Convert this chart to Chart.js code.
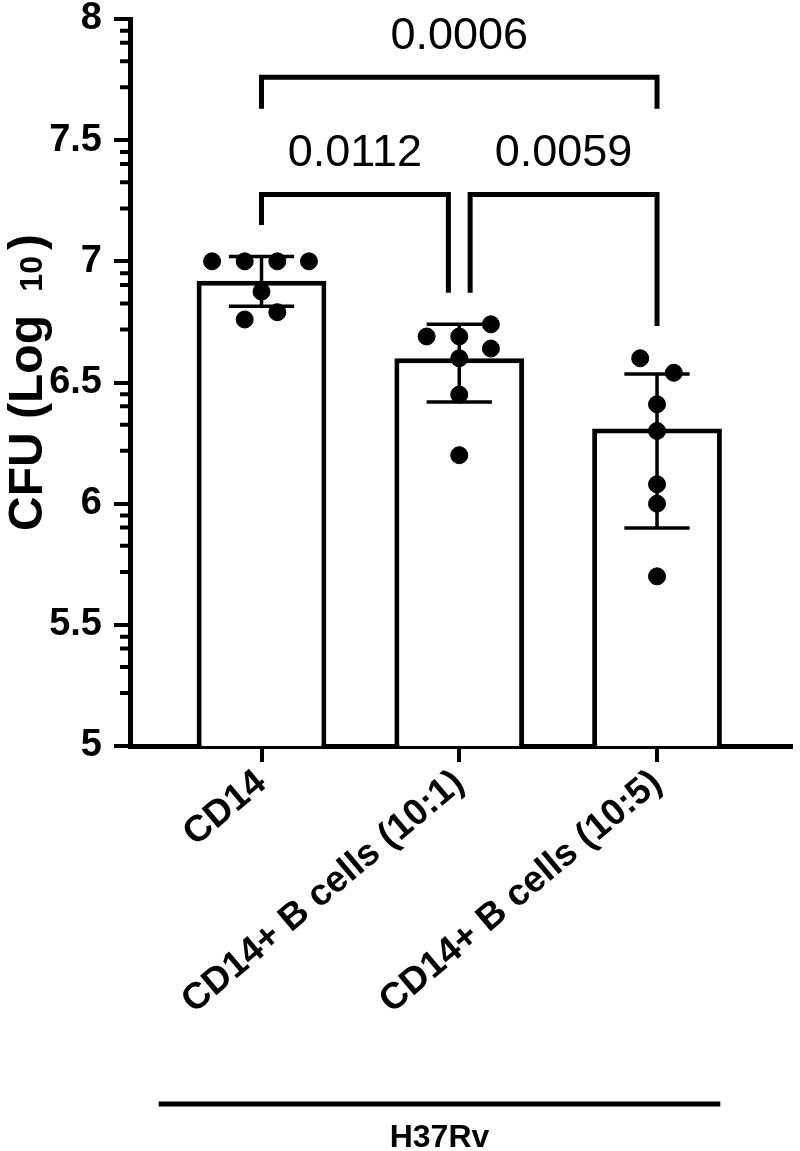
<!DOCTYPE html>
<html lang="en">
  <head>
    <meta charset="UTF-8" />
    <title>CFU H37Rv</title>
    <script src="https://cdn.jsdelivr.net/npm/chart.js@4.4.0/dist/chart.umd.min.js"></script>
    <style>
      body { margin: 0; background: #fff; }
    </style>
  </head>
  <body>
    <canvas id="myChart" width="800" height="1151"></canvas>
    <script>
      const groups = ["CD14", "CD14+ B cells (10:1)", "CD14+ B cells (10:5)"];
      const barValues = [6.92, 6.60, 6.31];
      const errHigh = [7.02, 6.74, 6.535];
      const errLow = [6.815, 6.42, 5.90];

      const pointsCD14 = [7.0, 7.0, 7.0, 7.0, 6.875, 6.76, 6.79];
      const points101 = [6.69, 6.69, 6.74, 6.64, 6.60, 6.45, 6.20];
      const points105 = [6.60, 6.54, 6.41, 6.30, 6.08, 6.00, 5.70];
      // sideways spread of the dots (category units)
      const jitterCD14 = [-0.25, -0.085, 0.08, 0.24, 0, -0.085, 0.08];
      const jitter101 = [-0.165, 0, 0.16, 0.16, 0, 0, 0];
      const jitter105 = [-0.085, 0.085, 0, 0, 0, 0, 0];

      const yTicks = [5, 5.5, 6, 6.5, 7, 7.5, 8];
      const minorFrac = [0.437, 0.652, 0.804, 0.902];

      // significance brackets
      const pLabels = ["0.0006", "0.0112", "0.0059"];
      const bracketFrom = [0, 0, 1.055];
      const bracketTo = [2, 0.945, 2];
      const bracketTop = [7.76, 7.276, 7.276];
      const legLeft = [7.63, 7.15, 6.87];
      const legRight = [7.63, 6.87, 6.733];

      const groupLabel = "H37Rv";
      const groupSpan = [-0.52, 2.32];

      Chart.defaults.font.family = "'Liberation Sans', Arial, sans-serif";
      Chart.defaults.color = "#000";

      const allPoints = [];
      [[pointsCD14, jitterCD14], [points101, jitter101], [points105, jitter105]].forEach(([vals, jit], i) => {
        vals.forEach((v, k) => allPoints.push({ x: i + jit[k], y: v }));
      });

      const extras = {
        id: "extras",
        afterDatasetDraw(chart, args) {
          if (args.meta.type !== "bar") return;
          const { ctx, scales: { x, y } } = chart;
          ctx.save();
          ctx.strokeStyle = "#000";
          ctx.lineWidth = 3.5;
          groups.forEach((g, i) => {
            const cx = x.getPixelForValue(i);
            const half = x.getPixelForValue(i + 0.165) - cx;
            const top = y.getPixelForValue(errHigh[i]);
            const bot = y.getPixelForValue(errLow[i]);
            ctx.beginPath();
            ctx.moveTo(cx, top); ctx.lineTo(cx, bot);
            ctx.moveTo(cx - half, top); ctx.lineTo(cx + half, top);
            ctx.moveTo(cx - half, bot); ctx.lineTo(cx + half, bot);
            ctx.stroke();
          });
          ctx.restore();
        },
        afterDraw(chart) {
          const { ctx, chartArea, scales: { x, y } } = chart;
          ctx.save();
          ctx.strokeStyle = "#000";
          ctx.fillStyle = "#000";

          // minor ticks on the y axis
          ctx.lineWidth = 4;
          ctx.beginPath();
          for (let t = 0; t < yTicks.length - 1; t++) {
            const step = yTicks[t + 1] - yTicks[t];
            minorFrac.forEach(f => {
              const py = y.getPixelForValue(yTicks[t] + f * step);
              ctx.moveTo(chartArea.left - 10, py);
              ctx.lineTo(chartArea.left, py);
            });
          }
          ctx.stroke();

          // brackets with p values
          ctx.lineWidth = 5;
          ctx.lineJoin = "miter";
          ctx.font = "45px 'Liberation Sans', Arial, sans-serif";
          ctx.textAlign = "center";
          ctx.textBaseline = "alphabetic";
          pLabels.forEach((p, i) => {
            const x1 = x.getPixelForValue(bracketFrom[i]);
            const x2 = x.getPixelForValue(bracketTo[i]);
            const yt = y.getPixelForValue(bracketTop[i]);
            ctx.beginPath();
            ctx.moveTo(x1, y.getPixelForValue(legLeft[i]));
            ctx.lineTo(x1, yt);
            ctx.lineTo(x2, yt);
            ctx.lineTo(x2, y.getPixelForValue(legRight[i]));
            ctx.stroke();
            ctx.fillText(p, (x1 + x2) / 2, yt - 28);
          });

          // y axis title with subscript
          const big = "bold 48px 'Liberation Sans', Arial, sans-serif";
          const small = "bold 32px 'Liberation Sans', Arial, sans-serif";
          ctx.font = big;
          const w1 = ctx.measureText("CFU (Log ").width + 10;
          const w3 = ctx.measureText(")").width;
          ctx.font = small;
          const w2 = ctx.measureText("10").width + 6;
          const total = w1 + w2 + w3;
          const mid = (chartArea.top + chartArea.bottom) / 2;
          ctx.translate(42, mid + total / 2);
          ctx.rotate(-Math.PI / 2);
          ctx.textAlign = "left";
          ctx.font = big;
          ctx.fillText("CFU (Log ", 0, 0);
          ctx.font = small;
          ctx.fillText("10", w1, 0);
          ctx.font = big;
          ctx.fillText(")", w1 + w2, 0);
          ctx.setTransform(1, 0, 0, 1, 0, 0);

          // group line
          const gx1 = x.getPixelForValue(groupSpan[0]);
          const gx2 = x.getPixelForValue(groupSpan[1]);
          ctx.lineWidth = 5;
          ctx.beginPath();
          ctx.moveTo(gx1, 1104);
          ctx.lineTo(gx2, 1104);
          ctx.stroke();
          ctx.font = "bold 32px 'Liberation Sans', Arial, sans-serif";
          ctx.textAlign = "center";
          ctx.fillText(groupLabel, (gx1 + gx2) / 2, 1147);
          ctx.restore();
        }
      };

      const ctx = document.getElementById("myChart").getContext("2d");
      const chart = new Chart(ctx, {
        type: "bar",
        data: {
          datasets: [
            {
              type: "scatter",
              data: allPoints,
              backgroundColor: "#000",
              borderColor: "#000",
              pointRadius: 8.5,
              pointHoverRadius: 8.5,
              order: 0
            },
            {
              type: "bar",
              data: barValues.map((v, i) => ({ x: i, y: v })),
              backgroundColor: "#fff",
              borderColor: "#000",
              borderWidth: 5,
              borderSkipped: "start",
              categoryPercentage: 0.8,
              barPercentage: 0.82,
              order: 1
            }
          ]
        },
        options: {
          responsive: false,
          devicePixelRatio: 1,
          animation: false,
          layout: { padding: { top: 19, right: 5, bottom: 0, left: 0 } },
          plugins: { legend: { display: false }, tooltip: { enabled: false } },
          scales: {
            x: {
              type: "linear",
              min: -0.665,
              max: 2.675,
              offset: false,
              afterBuildTicks: s => { s.ticks = groups.map((g, i) => ({ value: i })); },
              afterFit: s => { s.height = 405; },
              grid: { offset: false, drawOnChartArea: false, drawTicks: true, tickLength: 16, tickWidth: 4, lineWidth: 4, color: "#000" },
              border: { display: true, width: 5, color: "#000" },
              ticks: {
                autoSkip: false,
                minRotation: 40,
                maxRotation: 40,
                padding: 2,
                color: "#000",
                font: { size: 37, weight: "bold", lineHeight: 1 },
                callback: v => groups[v]
              }
            },
            y: {
              min: 5,
              max: 8,
              afterBuildTicks: s => { s.ticks = yTicks.map(v => ({ value: v })); },
              afterFit: s => { s.width = 130; },
              grid: { drawOnChartArea: false, drawTicks: true, tickLength: 16, tickWidth: 4, lineWidth: 4, color: "#000" },
              border: { display: true, width: 5, color: "#000" },
              ticks: {
                padding: 12,
                color: "#000",
                font: { size: 38, weight: "bold", lineHeight: 0.35 },
                callback: v => String(v)
              }
            }
          }
        },
        plugins: [extras]
      });
    </script>
  </body>
</html>
